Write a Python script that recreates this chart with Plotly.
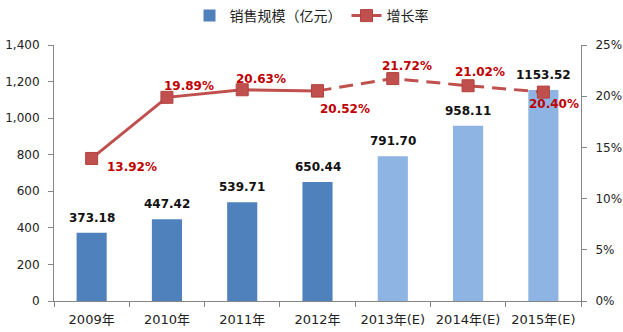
import plotly.graph_objects as go

# Sales scale (100 million yuan) and year-on-year growth rate
years = ["2009年", "2010年", "2011年", "2012年", "2013年(E)", "2014年(E)", "2015年(E)"]
sales = [373.18, 447.42, 539.71, 650.44, 791.70, 958.11, 1153.52]
growth = [13.92, 19.89, 20.63, 20.52, 21.72, 21.02, 20.40]
estimated = [False, False, False, False, True, True, True]

# pixel offsets of the growth labels relative to their points
growth_label_shift = [(40, -9), (22, 11), (19, 11), (27, -18), (14, 13), (12, 14), (11, -12)]

BAR_ACTUAL = "#4F81BD"
BAR_EST = "#8DB4E2"
LINE = "#C0504D"
LABEL_RED = "#C00000"
AXIS = "#868686"
FONT = "DejaVu Sans, Noto Sans CJK SC, sans-serif"

fig = go.Figure()

fig.add_trace(go.Bar(
    x=years, y=sales, name="销售规模（亿元）",
    marker=dict(color=[BAR_EST if e else BAR_ACTUAL for e in estimated], line=dict(width=0)),
    width=0.4, yaxis="y",
))

# last actual year index: solid line up to it, dashed afterwards
last_actual = max(i for i, e in enumerate(estimated) if not e)

fig.add_trace(go.Scatter(
    x=years[:last_actual + 1], y=growth[:last_actual + 1], name="增长率",
    mode="lines+markers", yaxis="y2",
    line=dict(color=LINE, width=3),
    marker=dict(symbol="square", size=12, color=LINE, line=dict(color="#B4413E", width=1)),
))
fig.add_trace(go.Scatter(
    x=years[last_actual:], y=growth[last_actual:], name="增长率",
    mode="lines+markers", yaxis="y2", showlegend=False,
    line=dict(color=LINE, width=3, dash="14px,8px"),
    marker=dict(symbol="square", size=12, color=LINE, line=dict(color="#B4413E", width=1)),
))

annotations = []
for yr, v in zip(years, sales):
    annotations.append(dict(
        x=yr, y=v, xref="x", yref="y", text=f"<b>{v:.2f}</b>", showarrow=False,
        yanchor="bottom", yshift=6, font=dict(family=FONT, size=12, color="#111111"),
    ))
for yr, g, (dx, dy) in zip(years, growth, growth_label_shift):
    annotations.append(dict(
        x=yr, y=g, xref="x", yref="y2", text=f"<b>{g:.2f}%</b>", showarrow=False,
        xshift=dx, yshift=dy, font=dict(family=FONT, size=12, color=LABEL_RED),
    ))

fig.update_layout(
    width=623, height=332,
    margin=dict(l=54, r=42, t=45, b=31),
    paper_bgcolor="white", plot_bgcolor="white",
    font=dict(family=FONT, size=12, color="#222222"),
    showlegend=True,
    legend=dict(
        orientation="h", x=0.5, xanchor="center", xref="container",
        y=1, yanchor="top", yref="container",
        font=dict(family=FONT, size=14, color="#222222"),
        itemwidth=30, tracegroupgap=0,
    ),
    bargap=0.6,
    xaxis=dict(
        type="category", range=[-0.5, len(years) - 0.5],
        showline=True, linecolor=AXIS, linewidth=1,
        ticks="outside", tickson="boundaries", ticklen=5, tickcolor=AXIS,
        tickfont=dict(size=13), ticklabelstandoff=6, tickangle=0,
        showgrid=False, zeroline=False, automargin=False,
    ),
    yaxis=dict(
        range=[0, 1400], dtick=200, tickformat=",",
        showline=True, linecolor=AXIS, linewidth=1,
        ticks="outside", ticklen=5, tickcolor=AXIS,
        tickfont=dict(size=12), ticklabelstandoff=6,
        showgrid=False, zeroline=False, automargin=False,
    ),
    yaxis2=dict(
        range=[0, 25], dtick=5, ticksuffix="%", overlaying="y", side="right",
        showline=True, linecolor=AXIS, linewidth=1,
        ticks="outside", ticklen=5, tickcolor=AXIS,
        tickfont=dict(size=12), ticklabelstandoff=6,
        showgrid=False, zeroline=False, automargin=False,
    ),
    annotations=annotations,
)

fig.write_html("out.html")
